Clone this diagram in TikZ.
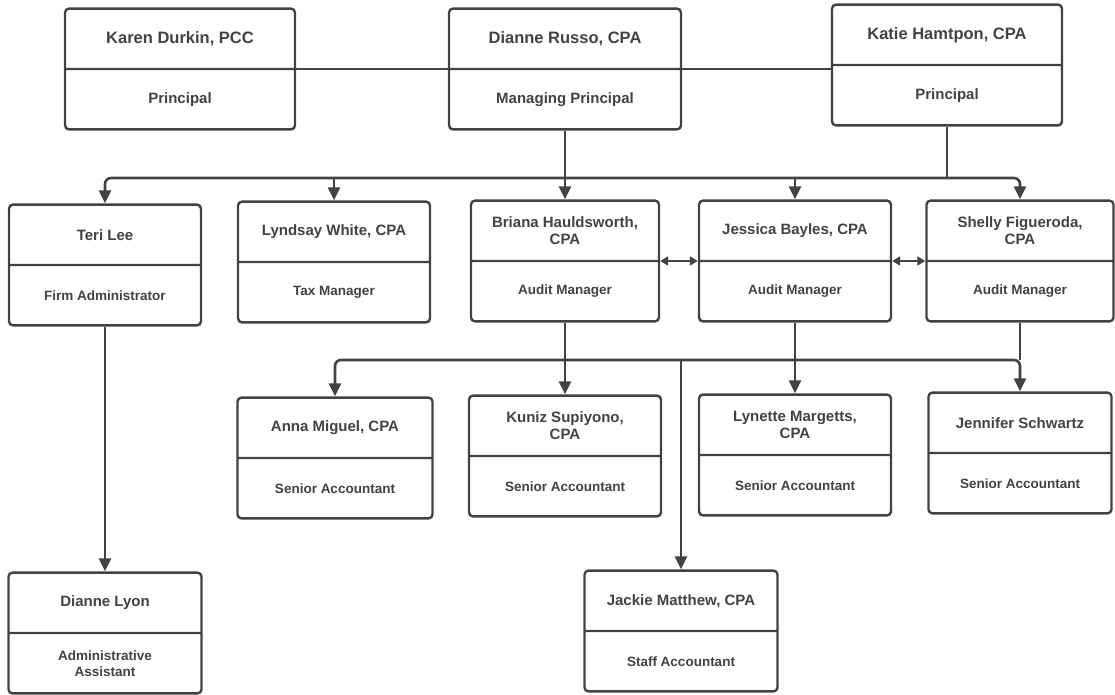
\documentclass[tikz,border=0pt]{standalone}
\usepackage{fontspec}
\setmainfont{Liberation Sans}
\usetikzlibrary{shapes.multipart,arrows.meta}
\definecolor{ink}{HTML}{424242}
\newcommand{\namefont}{\fontsize{15}{17}\selectfont\bfseries}
\newcommand{\rolefont}{\fontsize{13.5}{16}\selectfont\bfseries}
\newcommand{\staffbox}[3][182pt]{\parbox[c][48pt][c]{#1}{\centering\namefont #2}\nodepart{two}\parbox[c][48pt][c]{#1}{\centering\rolefont #3}}

\begin{document}
\begin{tikzpicture}[x=1pt, y=-1pt, ink, line width=2.6pt,
    main/.style = {draw, line width=2.4pt, rounded corners=4pt, rectangle split, rectangle split parts=2, inner sep=5pt},
    head/.style = {main, execute at begin node={\def\namefont{\fontsize{16.5}{19}\selectfont\bfseries}\def\rolefont{\fontsize{15}{17}\selectfont\bfseries}}},
    arr/.style = {-{Triangle[length=13pt,width=12pt]}, rounded corners=6pt},
    both/.style = {{Triangle[length=8pt,width=9pt]}-{Triangle[length=8pt,width=9pt]}}]
    \useasboundingbox (0,0) rectangle (1115,694);
    \node[head] (karen)    at (180,69)   {\staffbox[220pt]{Karen Durkin, PCC}{Principal}};
    \node[head] (dianne)   at (565,69)   {\staffbox[222pt]{Dianne Russo, CPA}{Managing Principal}};
    \node[head] (katie)    at (947,65)   {\staffbox[220pt]{Katie Hamtpon, CPA}{Principal}};
    \node[main] (teri)     at (105,265)  {\staffbox{Teri Lee}{Firm Administrator}};
    \node[main] (lyndsay)  at (334,262)  {\staffbox{Lyndsay White, CPA}{Tax Manager}};
    \node[main] (briana)   at (565,261)  {\staffbox[178pt]{Briana Hauldsworth,\\CPA}{Audit Manager}};
    \node[main] (jessica)  at (795,261)  {\staffbox{Jessica Bayles, CPA}{Audit Manager}};
    \node[main] (shelly)   at (1020,261) {\staffbox[177pt]{Shelly Figueroda,\\CPA}{Audit Manager}};
    \node[main] (anna)     at (335,458)  {\staffbox[185pt]{Anna Miguel, CPA}{Senior Accountant}};
    \node[main] (kuniz)    at (565,456)  {\staffbox{Kuniz Supiyono,\\CPA}{Senior Accountant}};
    \node[main] (lynette)  at (795,455)  {\staffbox{Lynette Margetts,\\CPA}{Senior Accountant}};
    \node[main] (jennifer) at (1020,453) {\staffbox[173pt]{Jennifer Schwartz}{Senior Accountant}};
    \node[main] (jackie)   at (681,631)  {\staffbox[183pt]{Jackie Matthew, CPA}{Staff Accountant}};
    \node[main] (dlyon)    at (105,633)  {\staffbox[183pt]{Dianne Lyon}{Administrative\\Assistant}};
    \coordinate (top) at (565,178);
    \coordinate (mid) at (565,360);
    \draw (karen.east) -- (dianne.west);
    \draw (dianne.east) -- (katie.west |- dianne.east);
    \draw (dianne) -- (top);
    \draw (katie) -- (katie |- top);
    \draw[arr] (top) -| (teri);
    \draw[arr] (top) -| (shelly);
    \draw[arr] (lyndsay |- top) -- (lyndsay);
    \draw[arr] (top) -- (briana);
    \draw[arr] (jessica |- top) -- (jessica);
    \draw[both] (briana) -- (jessica);
    \draw[both] (jessica) -- (shelly);
    \draw (briana) -- (mid);
    \draw (shelly) -- (shelly |- mid);
    \draw[arr] (mid) -| (anna);
    \draw[arr] (mid) -| (jennifer);
    \draw[arr] (mid) -- (kuniz);
    \draw[arr] (jessica) -- (lynette);
    \draw[arr] (mid -| jackie) -- (jackie);
    \draw[arr] (teri) -- (dlyon);
\end{tikzpicture}
\end{document}
